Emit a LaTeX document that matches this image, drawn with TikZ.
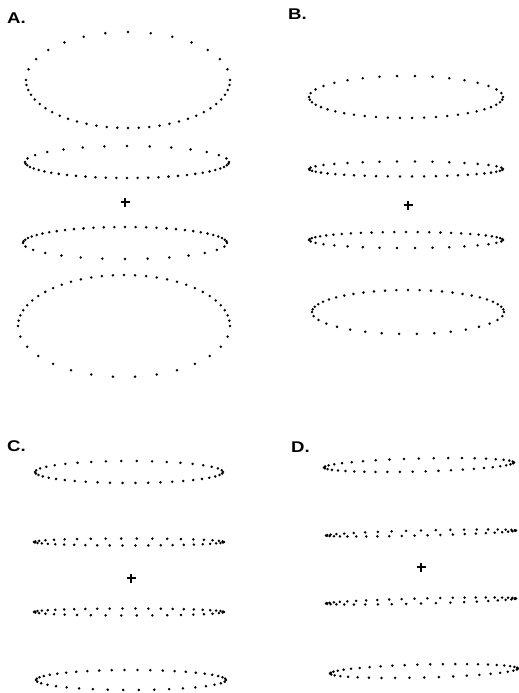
\documentclass[tikz,border=0pt]{standalone}
\usepackage{fontspec}
\setmainfont{Liberation Sans}
% #1 cx, #2 cy, #3 rx, #4 ry, #5 dots on upper half, #6 dots on lower half, #7 rotation
\newcommand\dotell[7]{%
  \begin{scope}[shift={(#1,#2)}, rotate=#7]
    \foreach \k in {1,...,#5} {\pgfmathsetmacro\ph{180*(\k-1)/#5}
      \fill[dotfill] ({#3*cos(\ph)},{-#4*sin(\ph)}) circle[radius=1.4pt];}
    \foreach \k in {1,...,#6} {\pgfmathsetmacro\ph{180+180*(\k-1)/#6}
      \fill[dotfill] ({#3*cos(\ph)},{-#4*sin(\ph)}) circle[radius=1.4pt];}
  \end{scope}}
\newcommand\plusmark[1]{%
  \draw[crossline] ([xshift=-4.5pt]#1) -- ([xshift=4.5pt]#1)
                   ([yshift=-4.5pt]#1) -- ([yshift=4.5pt]#1);}
\begin{document}
\begin{tikzpicture}[x=1pt,y=-1pt,
  dotfill/.style={fill=black},
  lab/.style={anchor=base west, inner sep=0pt, xscale=1.2, transform shape,
              font=\fontsize{15.5}{16}\selectfont\bfseries},
  crossline/.style={line width=1.5pt}]
\useasboundingbox (0,0) rectangle (519,693);

% ---------- labels ----------
\node[lab] (labA) at (7,24) {A.};
\node[lab] (labB) at (288,20) {B.};
\node[lab] (labC) at (7,451) {C.};
\node[lab] (labD) at (291,452) {D.};

% ---------- centre marks ----------
\coordinate (pA) at (125,202);
\coordinate (pB) at (408,205);
\coordinate (pC) at (131,578);
\coordinate (pD) at (421,567);
\plusmark{pA}
\plusmark{pB}
\plusmark{pC}
\plusmark{pD}

% ---------- panel A ----------
\dotell{128}{80}{102}{48}{14}{30}{0}
\dotell{127}{162}{102}{16}{14}{30}{0}
\dotell{125}{243}{102}{16}{30}{14}{0}
\dotell{124}{326}{106}{51}{30}{15}{0}

% ---------- panel B ----------
\dotell{406}{97}{97}{21}{17}{25}{0}
\dotell{406}{169}{97}{7.5}{17}{25}{0}
\dotell{406}{240}{97}{8}{26}{17}{0}
\dotell{408}{312}{96}{22}{26}{17}{0}

% ---------- panel C ----------
\dotell{129}{472}{94}{11}{19}{23}{0}
\dotell{129}{542}{95}{3.5}{19}{23}{0}
\dotell{129}{612}{95}{3.5}{23}{19}{0}
\dotell{131}{680}{95}{10}{23}{19}{0}

% ---------- panel D ----------
\dotell{419}{465}{95}{6.5}{20}{23}{1.5}
\dotell{421}{533}{95}{2.5}{20}{23}{1.5}
\dotell{421}{601}{95}{2.5}{23}{20}{1.5}
\dotell{424}{671}{94}{6.5}{23}{20}{1.5}
\end{tikzpicture}
\end{document}
